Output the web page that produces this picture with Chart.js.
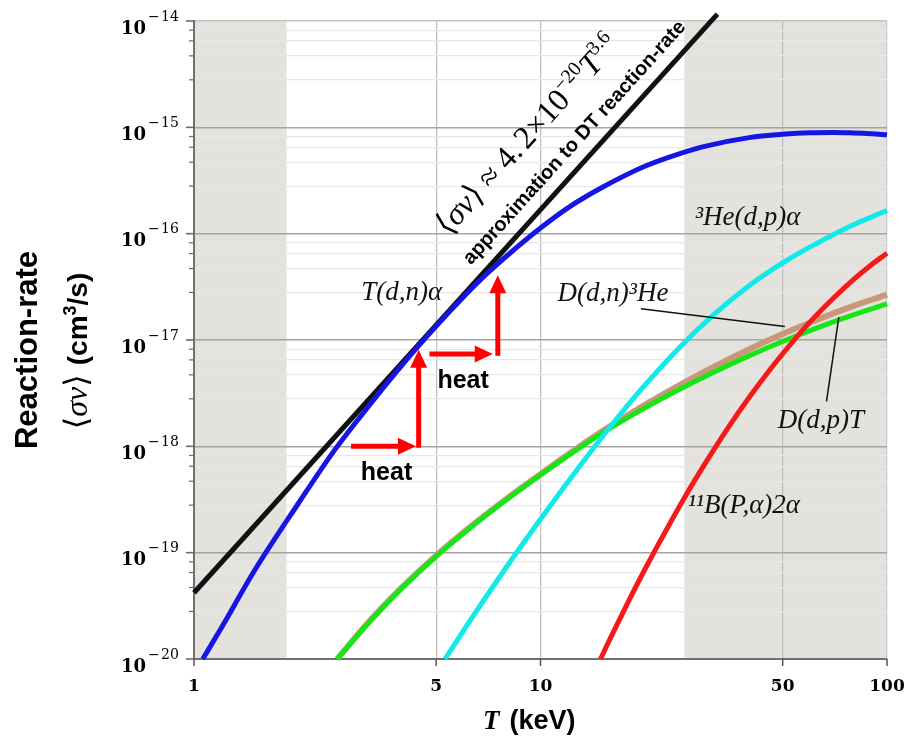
<!DOCTYPE html>
<html>
<head>
<meta charset="utf-8">
<script src="https://cdn.jsdelivr.net/npm/chart.js@4.4.1/dist/chart.umd.min.js"></script>
<style>
html,body{margin:0;padding:0;background:#ffffff;overflow:hidden;}
canvas{display:block;}
</style>
</head>
<body>
<canvas id="chart" width="905" height="736"></canvas>
<script>
// ---------- data: T in keV, <σv> in cm^3/s ----------
const T_DT    = [1.06,1.2,1.5,2,2.5,3,4,5,6,7,8,10,12,15,20,25,30,40,50,60,70,80,90,100];
const SV_DT   = [1.0e-20,1.97e-20,6.9e-20,2.9e-19,8.5e-19,1.85e-18,5.9e-18,1.35e-17,2.55e-17,4.2e-17,6.2e-17,1.13e-16,1.75e-16,2.7e-16,4.3e-16,5.6e-16,6.65e-16,8.0e-16,8.6e-16,8.9e-16,8.95e-16,8.85e-16,8.7e-16,8.5e-16];

const T_DHE3  = [5.3,6.31,7.94,10,12.59,15.85,19.95,25.12,31.62,39.81,50.12,63.1,79.43,100];
const SV_DHE3 = [1.0e-20,2.38e-20,7.18e-20,2.06e-19,5.7e-19,1.51e-18,3.72e-18,8.43e-18,1.73e-17,3.21e-17,5.35e-17,8.19e-17,1.2e-16,1.65e-16];

const T_DD    = [2.59,3.16,3.98,5.01,6.31,7.94,10,12.59,15.85,19.95,25.12,31.62,39.81,50.12,63.1,79.43,100];
const SV_DDP  = [1.0e-20,2.11e-20,4.62e-20,9.28e-20,1.74e-19,3.11e-19,5.37e-19,9.07e-19,1.474e-18,2.29e-18,3.43e-18,4.98e-18,7.05e-18,9.72e-18,1.306e-17,1.714e-17,2.19e-17];
const SV_DDN  = [1.0e-20,2.15e-20,4.71e-20,9.47e-20,1.775e-19,3.17e-19,5.48e-19,9.34e-19,1.54e-18,2.44e-18,3.74e-18,5.58e-18,8.11e-18,1.142e-17,1.561e-17,2.074e-17,2.67e-17];

const T_PB    = [14.9,16,18,20,23,26,30,35,40,45,50,60,70,80,90,100];
const SV_PB   = [1.0e-20,1.63e-20,3.56e-20,6.95e-20,1.61e-19,3.27e-19,7.06e-19,1.54e-18,2.88e-18,4.82e-18,7.43e-18,1.48e-17,2.47e-17,3.7e-17,5.08e-17,6.53e-17];

// <σv> ≈ 4.2e-20 T^3.6  (straight line on log-log axes: two end points)
const T_APPROX  = [1, 32.4];
const SV_APPROX = [4.2e-20, 1.16e-14];

// axes
const X_TICKS = [1, 5, 10, 50, 100];
const X_TICK_LABELS = ['1', '5', '10', '50', '100'];
const Y_DECADES = [-20, -19, -18, -17, -16, -15, -14];
const Y_MINOR_MULT = [2.8, 4.7, 6.5, 8.2];
const SHADED_BANDS = [[1, 1.85], [26, 100]];

// annotations (in data coordinates)
const CURVE_LABELS = [
  {text: 'T(d,n)α',   T: 3.04, s: 2.36e-17},
  {text: '³He(d,p)α', T: 27.9, s: 1.2e-16},
  {text: 'D(d,n)³He', T: 11.2, s: 2.31e-17},
  {text: 'D(d,p)T',   T: 48.4, s: 1.5e-18},
  {text: '¹¹B(P,α)2α', T: 26.6, s: 2.36e-19}
];
const LEADERS = [
  [[19.5, 1.97e-17], [50.7, 1.34e-17]],
  [[72.6, 1.64e-17], [66.9, 2.65e-18]]
];
const HEAT_ARROWS = [
  [[2.84, 1e-18], [4.37, 1e-18]],
  [[4.45, 0.97e-18], [4.45, 8.1e-18]],
  [[4.78, 7.4e-18], [7.28, 7.4e-18]],
  [[7.53, 7.1e-18], [7.53, 4.07e-17]]
];
const HEAT_LABELS = [[3.03, 4.83e-19], [5.04, 3.56e-18]];
const APPROX_TEXT = {at: 0.755, offset: 14};
const FORMULA_TEXT = {at: 0.722, offset: 50};

// ---------- drawing ----------
const SERIF = '"Liberation Serif","DejaVu Serif",serif';
const SANS = '"Liberation Sans",Arial,sans-serif';
const DJS = '"DejaVu Serif",serif';

function pts(xs, ys) { return xs.map((x, i) => ({x: x, y: ys[i]})); }
function lineDs(label, xs, ys, color, width, order) {
  return {label: label, data: pts(xs, ys), borderColor: color, backgroundColor: color,
    borderWidth: width, pointRadius: 0, pointHoverRadius: 0, fill: false,
    cubicInterpolationMode: 'monotone', clip: false, order: order,
    borderCapStyle: 'butt', borderJoinStyle: 'round'};
}

function richWidth(ctx, parts) {
  let w = 0;
  for (const p of parts) { ctx.font = p.font; w += ctx.measureText(p.text).width + (p.gap || 0); }
  return w;
}
function drawRich(ctx, parts, x, y) {
  let cx = x;
  for (const p of parts) {
    ctx.font = p.font;
    ctx.fillText(p.text, cx, y - (p.rise || 0));
    cx += ctx.measureText(p.text).width + (p.gap || 0);
  }
}

const decor = {
  id: 'decor',
  beforeDraw(chart) {
    const {ctx, chartArea: a, scales: {x}} = chart;
    ctx.save();
    ctx.fillStyle = '#e4e2dc';
    for (const [t0, t1] of SHADED_BANDS) {
      const x0 = x.getPixelForValue(t0), x1 = x.getPixelForValue(t1);
      ctx.fillRect(x0, a.top, x1 - x0, a.bottom - a.top);
    }
    ctx.restore();
  },
  afterDatasetsDraw(chart) {
    const {ctx, scales: {x, y}} = chart;
    const P = (t, s) => [x.getPixelForValue(t), y.getPixelForValue(s)];
    ctx.save();
    // leader lines
    ctx.strokeStyle = '#111';
    ctx.lineWidth = 1.5;
    for (const [a, b] of LEADERS) {
      const p = P(a[0], a[1]), q = P(b[0], b[1]);
      ctx.beginPath(); ctx.moveTo(p[0], p[1]); ctx.lineTo(q[0], q[1]); ctx.stroke();
    }
    // curve labels
    ctx.fillStyle = '#111';
    ctx.textAlign = 'left';
    ctx.textBaseline = 'alphabetic';
    ctx.font = 'italic 27px ' + SERIF;
    for (const l of CURVE_LABELS) {
      const p = P(l.T, l.s);
      ctx.fillText(l.text, p[0], p[1]);
    }
    // heat arrows
    ctx.strokeStyle = '#ff0000';
    ctx.fillStyle = '#ff0000';
    for (const [a, b] of HEAT_ARROWS) {
      const p = P(a[0], a[1]), q = P(b[0], b[1]);
      const dx = q[0] - p[0], dy = q[1] - p[1], L = Math.hypot(dx, dy);
      const ux = dx / L, uy = dy / L, hl = 18, hw = 8.5;
      ctx.lineWidth = 5;
      ctx.beginPath(); ctx.moveTo(p[0], p[1]); ctx.lineTo(q[0] - ux * (hl - 1), q[1] - uy * (hl - 1)); ctx.stroke();
      ctx.beginPath();
      ctx.moveTo(q[0], q[1]);
      ctx.lineTo(q[0] - ux * hl - uy * hw, q[1] - uy * hl + ux * hw);
      ctx.lineTo(q[0] - ux * hl + uy * hw, q[1] - uy * hl - ux * hw);
      ctx.closePath(); ctx.fill();
    }
    ctx.fillStyle = '#000';
    ctx.font = 'bold 25px ' + SANS;
    for (const h of HEAT_LABELS) {
      const p = P(h[0], h[1]);
      ctx.fillText('heat', p[0], p[1]);
    }
    // texts along the approximation line
    const p0 = P(T_APPROX[0], SV_APPROX[0]), p1 = P(T_APPROX[1], SV_APPROX[1]);
    const ang = Math.atan2(p1[1] - p0[1], p1[0] - p0[0]);
    function along(spec, drawFn) {
      const qx = p0[0] + spec.at * (p1[0] - p0[0]);
      const qy = p0[1] + spec.at * (p1[1] - p0[1]);
      ctx.save();
      ctx.translate(qx, qy);
      ctx.rotate(ang);
      drawFn(-spec.offset);
      ctx.restore();
    }
    ctx.fillStyle = '#000';
    along(APPROX_TEXT, (yy) => {
      ctx.font = 'bold 20px ' + SANS;
      ctx.textAlign = 'center';
      ctx.fillText('approximation to DT reaction-rate', 0, yy);
    });
    along(FORMULA_TEXT, (yy) => {
      ctx.textAlign = 'left';
      const parts = [
        {text: '⟨', font: '32px ' + SERIF},
        {text: 'σv', font: 'italic 32px ' + SERIF},
        {text: '⟩', font: '32px ' + SERIF},
        {text: ' ≈ 4.', font: '32px ' + SERIF, gap: 4},
        {text: '2×10', font: '32px ' + SERIF},
        {text: '−20', font: '20px ' + SERIF, rise: 13},
        {text: 'T', font: 'italic 32px ' + SERIF},
        {text: '3.6', font: '20px ' + SERIF, rise: 13}
      ];
      const w = richWidth(ctx, parts);
      drawRich(ctx, parts, -w / 2, yy);
    });
    ctx.restore();
  },
  afterDraw(chart) {
    const {ctx, chartArea: a, scales: {x, y}} = chart;
    ctx.save();
    // y tick marks and labels
    ctx.strokeStyle = '#6a6a6a';
    for (const t of y.ticks) {
      const py = y.getPixelForValue(t.value);
      const lg = Math.log10(t.value);
      const major = Math.abs(lg - Math.round(lg)) < 1e-6;
      ctx.lineWidth = major ? 1.6 : 1.2;
      ctx.beginPath(); ctx.moveTo(a.left - (major ? 8 : 5), py); ctx.lineTo(a.left, py); ctx.stroke();
    }
    ctx.fillStyle = '#000';
    ctx.textBaseline = 'alphabetic';
    for (const d of Y_DECADES) {
      const py = y.getPixelForValue(Math.pow(10, d));
      ctx.textAlign = 'right';
      ctx.font = 'bold 18px ' + DJS;
      ctx.fillText('10', 146, py + 12.5);
      ctx.textAlign = 'left';
      ctx.font = '14px ' + DJS;
      ctx.fillText('−', 148, py - 0.5);
      ctx.fillText(String(-d), 161, py - 0.5);
    }
    // x tick marks and labels
    ctx.strokeStyle = '#555';
    ctx.lineWidth = 1.5;
    ctx.textAlign = 'center';
    ctx.font = 'bold 17px ' + DJS;
    X_TICKS.forEach((v, i) => {
      const px = x.getPixelForValue(v);
      ctx.beginPath(); ctx.moveTo(px, a.bottom); ctx.lineTo(px, a.bottom + 7); ctx.stroke();
      ctx.fillText(X_TICK_LABELS[i], px, 690.5);
    });
    // x title
    ctx.textAlign = 'left';
    drawRich(ctx, [
      {text: 'T', font: 'italic bold 27px ' + SERIF, gap: 10},
      {text: '(keV)', font: 'bold 27px ' + SANS}
    ], 483, 729);
    // y titles
    ctx.save();
    ctx.translate(37, 350);
    ctx.rotate(-Math.PI / 2);
    ctx.textAlign = 'center';
    ctx.font = 'bold 31px ' + SANS;
    ctx.fillText('Reaction-rate', 0, 0);
    ctx.restore();
    ctx.save();
    ctx.translate(87, 351);
    ctx.rotate(-Math.PI / 2);
    ctx.textAlign = 'left';
    const yparts = [
      {text: '⟨', font: '32px ' + SERIF},
      {text: 'σv', font: 'italic 32px ' + SERIF},
      {text: '⟩', font: '32px ' + SERIF, gap: 9},
      {text: '(cm', font: 'bold 28px ' + SANS},
      {text: '3', font: 'bold 18px ' + SANS, rise: 11},
      {text: '/s)', font: 'bold 28px ' + SANS}
    ];
    const yw = richWidth(ctx, yparts);
    drawRich(ctx, yparts, -yw / 2, 0);
    ctx.restore();
    ctx.restore();
  }
};

function yGridColor(c) {
  const v = c.tick && c.tick.value;
  if (!v) return 'rgba(0,0,0,0)';
  const lg = Math.log10(v);
  if (Math.abs(lg + 14) < 1e-6) return '#c4c4c4';
  return Math.abs(lg - Math.round(lg)) < 1e-6 ? '#a4a4a4' : '#e7e7e7';
}
function yGridWidth(c) {
  const v = c.tick && c.tick.value;
  if (!v) return 1;
  const lg = Math.log10(v);
  return Math.abs(lg - Math.round(lg)) < 1e-6 ? 1.4 : 1.2;
}
function xGridColor(c) {
  const v = c.tick && c.tick.value;
  if (v === 1) return 'rgba(0,0,0,0)';
  if (v === 100) return '#cbcbcb';
  return '#c0c0c0';
}

const ctx = document.getElementById('chart').getContext('2d');
new Chart(ctx, {
  type: 'line',
  data: {
    datasets: [
      lineDs('11B(p,α)2α', T_PB, SV_PB, '#f41a1a', 5, 0),
      lineDs('3He(d,p)α', T_DHE3, SV_DHE3, '#12eaea', 5, 1),
      lineDs('T(d,n)α', T_DT, SV_DT, '#1616e2', 5, 2),
      lineDs('D(d,p)T', T_DD, SV_DDP, '#16e616', 5, 3),
      lineDs('D(d,n)3He', T_DD, SV_DDN, '#c9987a', 6, 4),
      lineDs('4.2e-20 T^3.6', T_APPROX, SV_APPROX, '#111111', 5, 5)
    ]
  },
  options: {
    responsive: false,
    devicePixelRatio: 1,
    animation: false,
    events: [],
    layout: {padding: {left: 0, right: 18, top: 21, bottom: 0}},
    plugins: {legend: {display: false}, tooltip: {enabled: false}, title: {display: false}},
    scales: {
      x: {
        type: 'logarithmic', min: 1, max: 100,
        afterBuildTicks: (s) => { s.ticks = X_TICKS.map(v => ({value: v})); },
        afterFit: (s) => { s.height = 77; },
        ticks: {display: false},
        grid: {color: xGridColor, lineWidth: 1.3, drawTicks: false},
        border: {display: true, color: '#707070', width: 2}
      },
      y: {
        type: 'logarithmic', min: 1e-20, max: 1e-14,
        afterBuildTicks: (s) => {
          const t = [];
          Y_DECADES.forEach((d, i) => {
            t.push({value: Math.pow(10, d)});
            if (i < Y_DECADES.length - 1) Y_MINOR_MULT.forEach(m => t.push({value: m * Math.pow(10, d)}));
          });
          s.ticks = t;
        },
        afterFit: (s) => { s.width = 194; },
        ticks: {display: false},
        grid: {color: yGridColor, lineWidth: yGridWidth, drawTicks: false},
        border: {display: true, color: '#707070', width: 2}
      }
    }
  },
  plugins: [decor]
});
</script>
</body>
</html>
